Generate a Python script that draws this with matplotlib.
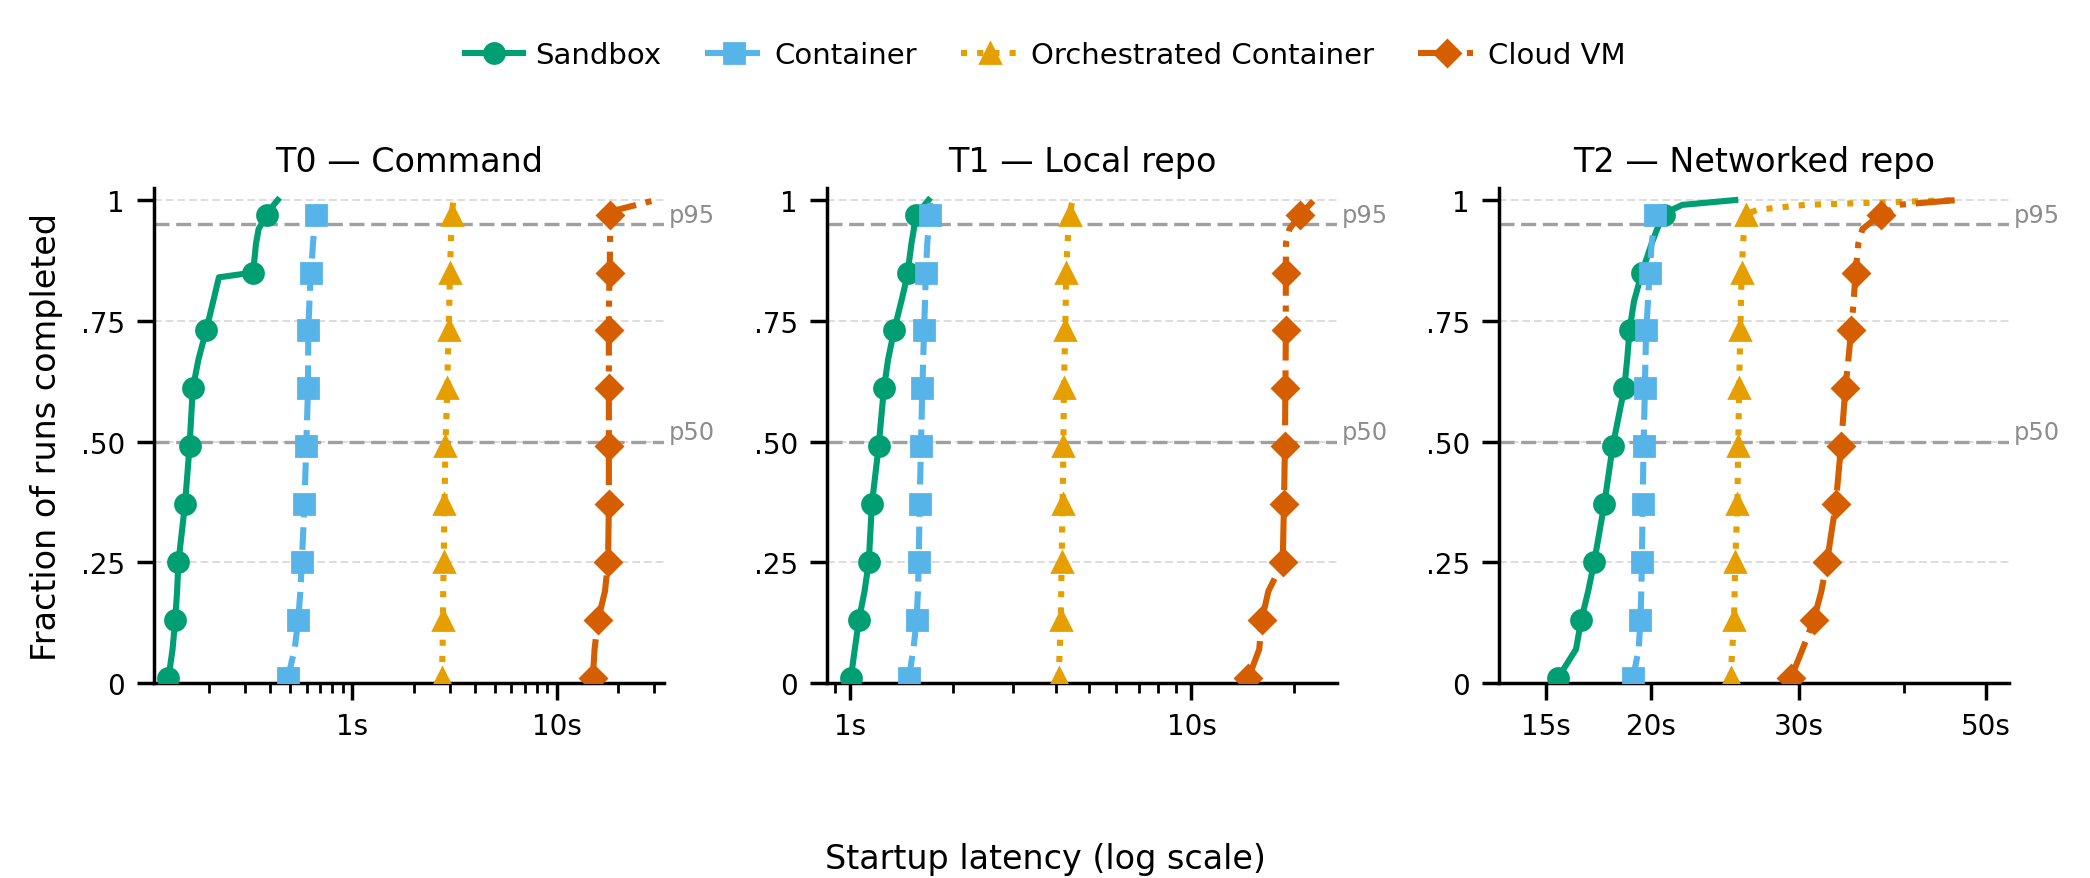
import numpy as np
import matplotlib.pyplot as plt
from matplotlib.ticker import LogLocator, NullFormatter
import matplotlib.transforms as mtransforms

# fraction of runs completed (ECDF levels)
q = [0.01, 0.07, 0.13, 0.19, 0.25, 0.37, 0.49, 0.61, 0.67, 0.73, 0.79,
     0.84, 0.85, 0.91, 0.94, 0.97, 0.98, 0.99, 1.00]
marker_q = [0.01, 0.13, 0.25, 0.37, 0.49, 0.61, 0.73, 0.85, 0.97]

# startup latency in seconds at each level of q
t0_sandbox = [0.127, 0.133, 0.137, 0.140, 0.142, 0.153, 0.161, 0.167, 0.178, 0.194,
              0.210, 0.224, 0.329, 0.340, 0.350, 0.385, 0.400, 0.415, 0.434]
t0_container = [0.486, 0.525, 0.546, 0.560, 0.569, 0.586, 0.598, 0.610, 0.611, 0.612,
                0.620, 0.628, 0.632, 0.645, 0.655, 0.668, 0.690, 0.720, 0.753]
t0_orch = [2.75, 2.77, 2.78, 2.79, 2.805, 2.83, 2.86, 2.92, 2.94, 2.965,
           2.99, 3.005, 3.01, 3.04, 3.055, 3.07, 3.09, 3.11, 3.13]
t0_vm = [15.0, 15.3, 15.9, 17.2, 17.8, 17.97, 17.97, 17.97, 17.97, 17.97,
         18.0, 18.1, 18.15, 18.2, 18.25, 18.3, 19.8, 24.5, 30.3]

t1_sandbox = [1.003, 1.03, 1.059, 1.10, 1.132, 1.156, 1.21, 1.254, 1.29, 1.343,
              1.41, 1.465, 1.472, 1.51, 1.535, 1.553, 1.60, 1.65, 1.695]
t1_container = [1.484, 1.53, 1.563, 1.578, 1.586, 1.596, 1.61, 1.625, 1.635, 1.644,
                1.655, 1.663, 1.665, 1.68, 1.695, 1.711, 1.712, 1.714, 1.716]
t1_orch = [4.076, 4.11, 4.137, 4.15, 4.162, 4.188, 4.213, 4.225, 4.245, 4.265,
           4.28, 4.288, 4.29, 4.33, 4.36, 4.393, 4.42, 4.45, 4.49]
t1_vm = [14.68, 15.8, 16.07, 16.8, 18.51, 18.67, 18.79, 18.85, 18.88, 18.9,
         18.9, 18.9, 18.9, 18.92, 19.37, 20.87, 21.5, 22.2, 22.86]

t2_sandbox = [15.51, 16.3, 16.53, 16.85, 17.13, 17.61, 18.02, 18.6, 18.75, 18.87,
              19.1, 19.45, 19.52, 20.05, 20.35, 20.76, 21.2, 21.8, 25.2]
t2_container = [19.05, 19.35, 19.44, 19.49, 19.52, 19.56, 19.61, 19.68, 19.71, 19.75,
                19.85, 19.92, 19.94, 20.05, 20.15, 20.23, 20.4, 20.6, 20.76]
t2_orch = [24.88, 25.0, 25.12, 25.16, 25.2, 25.35, 25.41, 25.47, 25.51, 25.56,
           25.6, 25.64, 25.65, 25.75, 25.82, 25.93, 26.8, 30.5, 46.2]
t2_vm = [29.35, 30.3, 31.24, 31.9, 32.39, 33.18, 33.66, 34.07, 34.35, 34.61,
         34.85, 35.0, 35.03, 35.3, 35.7, 37.52, 38.6, 39.3, 46.2]

tiers = ["T0 — Command", "T1 — Local repo", "T2 — Networked repo"]
series_names = ["Sandbox", "Container", "Orchestrated Container", "Cloud VM"]
panel_data = [
    [t0_sandbox, t0_container, t0_orch, t0_vm],
    [t1_sandbox, t1_container, t1_orch, t1_vm],
    [t2_sandbox, t2_container, t2_orch, t2_vm],
]
xlims = [(0.108, 33.4), (0.854, 26.7), (13.2, 53.3)]
xticks = [[1, 10], [1, 10], [15, 20, 30, 50]]
xticklabels = [["1s", "10s"], ["1s", "10s"], ["15s", "20s", "30s", "50s"]]
yticks = [0, 0.25, 0.5, 0.75, 1.0]
yticklabels = ["0", ".25", ".50", ".75", "1"]

colors = ["#009E73", "#56B4E9", "#E69F00", "#D55E00"]
styles = ["-", "--", ":", "-."]
markers = ["o", "s", "^", "D"]

plt.rcParams['font.family'] = 'DejaVu Sans'

fig = plt.figure(figsize=(10.45, 4.395), dpi=200)
lefts = [0.0737, 0.3957, 0.7172]
qa = np.array(q)
mark_idx = [int(i) for i in np.where(np.isin(np.round(qa, 2), marker_q))[0]]

axes = []
for k in range(3):
    ax = fig.add_axes([lefts[k], 0.2218, 0.2440, 0.5632])
    axes.append(ax)
    for name, vals, c, ls, m in zip(series_names, panel_data[k], colors, styles, markers):
        ax.plot(vals, q, color=c, ls=ls, lw=2.2, marker=m, ms=7.2 if m != "D" else 6.8,
                markevery=mark_idx, label=name, zorder=3)
    ax.set_xscale("log")
    ax.set_xlim(*xlims[k])
    ax.set_ylim(0, 1.025)
    ax.set_xticks(xticks[k])
    ax.set_xticklabels(xticklabels[k])
    ax.xaxis.set_minor_locator(LogLocator(base=10, subs=np.arange(2, 10), numticks=50))
    ax.xaxis.set_minor_formatter(NullFormatter())
    ax.set_yticks(yticks)
    ax.set_yticklabels(yticklabels)

    # light grid on the y ticks
    for yv in yticks[1:]:
        ax.axhline(yv, color="#dddddd", lw=0.7, ls=(0, (4, 2)), zorder=0)
    # percentile reference lines
    trans = mtransforms.blended_transform_factory(ax.transAxes, ax.transData)
    for yv, lab in [(0.95, "p95"), (0.5, "p50")]:
        ax.axhline(yv, color="#a0a0a0", lw=1.2, ls=(0, (4.5, 2)), zorder=1)
        ax.text(1.01, yv - 0.005, lab, transform=trans, ha="left", va="bottom",
                fontsize=8.7, color="#8c8c8c")

    ax.set_title(tiers[k], fontsize=12, pad=6)
    for s in ["top", "right"]:
        ax.spines[s].set_visible(False)
    for s in ["left", "bottom"]:
        ax.spines[s].set_linewidth(1.25)
    ax.tick_params(axis="both", which="major", labelsize=10, length=6, width=1.25, pad=4.5)
    ax.tick_params(axis="x", which="minor", length=3.5, width=1.0)

axes[0].set_ylabel("Fraction of runs completed", fontsize=12)
axes[0].yaxis.set_label_coords(-0.178, 0.5)

fig.text(0.5, 1 - 860 / 879, "Startup latency (log scale)", ha="center", va="center", fontsize=12)

handles, labels = axes[0].get_legend_handles_labels()
fig.legend(handles, labels, loc="center", bbox_to_anchor=(0.5, 0.936), ncol=4,
           frameon=False, fontsize=10.5, handlelength=2.0, handletextpad=0.4,
           columnspacing=1.5)

fig.savefig("out.png", dpi=200)
